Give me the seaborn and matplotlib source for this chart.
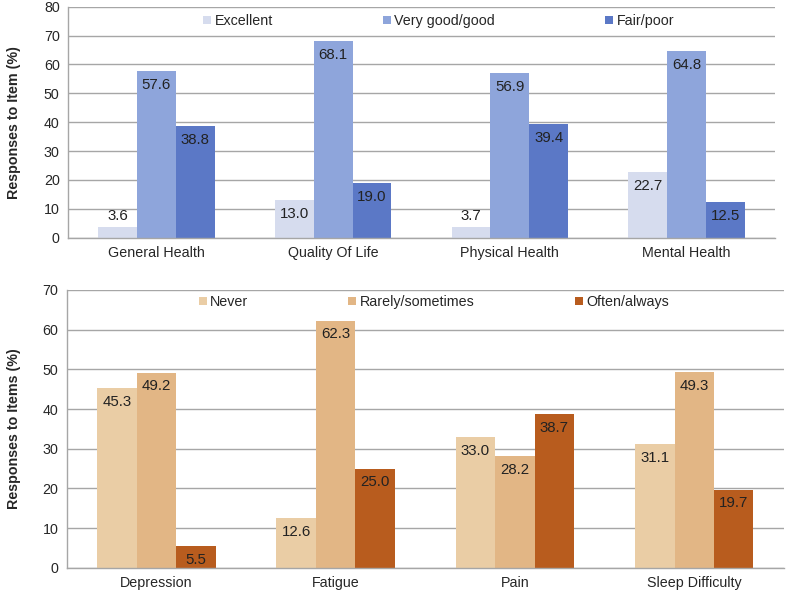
import pandas as pd
import matplotlib.pyplot as plt
import seaborn as sns

# Data
health_items = ["General Health", "Quality Of Life", "Physical Health", "Mental Health"]
health_levels = ["Excellent", "Very good/good", "Fair/poor"]
excellent = [3.6, 13.0, 3.7, 22.7]
very_good = [57.6, 68.1, 56.9, 64.8]
fair_poor = [38.8, 19.0, 39.4, 12.5]

symptom_items = ["Depression", "Fatigue", "Pain", "Sleep Difficulty"]
symptom_levels = ["Never", "Rarely/sometimes", "Often/always"]
never = [45.3, 12.6, 33.0, 31.1]
rarely = [49.2, 62.3, 28.2, 49.3]
often = [5.5, 25.0, 38.7, 19.7]

health_colors = ["#d6dcee", "#8ea5db", "#5b78c6"]
symptom_colors = ["#eacda5", "#e2b685", "#b85c1e"]

sns.set_style("white")
plt.rcParams["font.family"] = ["Liberation Sans", "DejaVu Sans"]

FS = 10.3


def long_df(items, levels, series):
    rows = []
    for lev, vals in zip(levels, series):
        for it, v in zip(items, vals):
            rows.append({"item": it, "level": lev, "value": v})
    return pd.DataFrame(rows)


def draw(ax, df, items, levels, colors, ymax, ylabel, leg_x, leg_y, colspace, label_x):
    sns.barplot(data=df, x="item", y="value", hue="level", order=items,
                hue_order=levels, palette=colors, width=0.66, linewidth=0,
                saturation=1, ax=ax, errorbar=None)
    ax.set_ylim(0, ymax)
    ax.set_yticks(range(0, ymax + 1, 10))
    ax.set_xlabel("")
    ax.set_ylabel(ylabel, fontsize=FS, fontweight="bold")
    ax.yaxis.set_label_coords(label_x, 0.5)
    ax.grid(axis="y", color="#a6a6a6", linewidth=1)
    ax.set_axisbelow(True)
    for s in ["top", "right"]:
        ax.spines[s].set_visible(False)
    for s in ["left", "bottom"]:
        ax.spines[s].set_color("#a6a6a6")
        ax.spines[s].set_linewidth(1)
    ax.tick_params(axis="y", length=3, color="#a6a6a6", pad=3, labelsize=FS)
    ax.tick_params(axis="x", length=0, pad=6, labelsize=FS)

    # value labels: inside the bar top, above it when the bar is too short
    px_per_unit = ax.bbox.height / ymax
    for cont in ax.containers:
        for p in cont:
            h = p.get_height()
            x = p.get_x() + p.get_width() / 2
            if h * px_per_unit < 18:
                ax.annotate(f"{h:.1f}", (x, h), xytext=(0, 3), textcoords="offset points",
                            ha="center", va="bottom", fontsize=10.8, color="#222222")
            else:
                ax.annotate(f"{h:.1f}", (x, h), xytext=(0, -5), textcoords="offset points",
                            ha="center", va="top", fontsize=10.8, color="#222222")

    ax.legend(loc="center left", bbox_to_anchor=(leg_x, leg_y), ncol=3, frameon=False,
              fontsize=FS, handlelength=0.55, handleheight=0.55, handletextpad=0.25,
              columnspacing=colspace, borderpad=0, borderaxespad=0)


fig = plt.figure(figsize=(7.89, 5.94), dpi=100)
ax1 = fig.add_axes([0.0862, 0.5998, 0.8961, 0.3889])
ax2 = fig.add_axes([0.0845, 0.0443, 0.9091, 0.4675])

draw(ax1, long_df(health_items, health_levels, [excellent, very_good, fair_poor]),
     health_items, health_levels, health_colors, 80, "Responses to Item (%)",
     0.191, 0.938, 7.7, -0.066)
draw(ax2, long_df(symptom_items, symptom_levels, [never, rarely, often]),
     symptom_items, symptom_levels, symptom_colors, 70, "Responses to Items (%)",
     0.184, 0.957, 7.0, -0.064)

fig.savefig("out.png", dpi=100)
